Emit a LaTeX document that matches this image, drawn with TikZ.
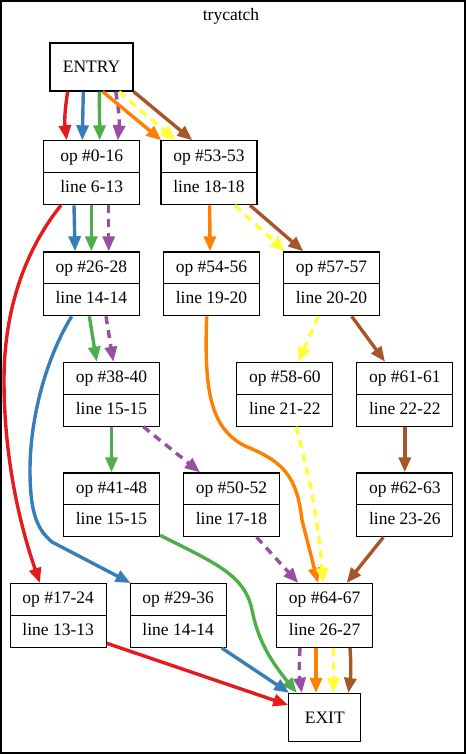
\documentclass[tikz,border=0pt]{standalone}
\usepackage{fontspec}
\setmainfont{Liberation Serif}
\usetikzlibrary{shapes.multipart,arrows.meta}

\definecolor{setred}{HTML}{E41A1C}
\definecolor{setblue}{HTML}{377EB8}
\definecolor{setgreen}{HTML}{4DAF4A}
\definecolor{setpurple}{HTML}{984EA3}
\definecolor{setorange}{HTML}{FF7F00}
\definecolor{setyellow}{HTML}{FFFF33}
\definecolor{setbrown}{HTML}{A65628}

\begin{document}
\begin{tikzpicture}[x=1pt, y=-1pt, every node/.style={font=\fontsize{17.5}{21}\selectfont},
    blk/.style={rectangle split, rectangle split parts=2, draw, line width=1.2pt,
      minimum width=96pt, inner ysep=4.85pt, anchor=north},
    ebox/.style={draw, line width=1.2pt, minimum height=48pt},
    flow/.style={line width=3.4pt, -{Triangle[length=15pt,width=12pt]}},
    dashflow/.style={flow, dash pattern=on 8pt off 6pt}]
  \useasboundingbox (0,0) rectangle (466,754);
  \draw[line width=1.2pt] (1,1) rectangle (465,753);
  \node (title) at (231,16) {trycatch};

  \node[ebox, minimum width=83pt] (entry) at (91.5,67) {ENTRY};
  \node[ebox, minimum width=72pt] (exit) at (324.8,717.5) {EXIT};

  \node[blk] (b0)  at (91.7,140.3)  {\strut op \#0-16 \nodepart{two}\strut line 6-13};
  \node[blk] (b53) at (209,140.3)   {\strut op \#53-53 \nodepart{two}\strut line 18-18};
  \node[blk] (b26) at (91.3,251.3)  {\strut op \#26-28 \nodepart{two}\strut line 14-14};
  \node[blk] (b54) at (211.5,251.3) {\strut op \#54-56 \nodepart{two}\strut line 19-20};
  \node[blk] (b57) at (331.5,251.3) {\strut op \#57-57 \nodepart{two}\strut line 20-20};
  \node[blk] (b38) at (111.5,361.7) {\strut op \#38-40 \nodepart{two}\strut line 15-15};
  \node[blk] (b58) at (284.8,361.7) {\strut op \#58-60 \nodepart{two}\strut line 21-22};
  \node[blk] (b61) at (404.8,361.7) {\strut op \#61-61 \nodepart{two}\strut line 22-22};
  \node[blk] (b41) at (111.5,472.3) {\strut op \#41-48 \nodepart{two}\strut line 15-15};
  \node[blk] (b50) at (231.5,472.3) {\strut op \#50-52 \nodepart{two}\strut line 17-18};
  \node[blk] (b62) at (404.8,472.3) {\strut op \#62-63 \nodepart{two}\strut line 23-26};
  \node[blk] (b17) at (58.2,583)    {\strut op \#17-24 \nodepart{two}\strut line 13-13};
  \node[blk] (b29) at (178.2,583)   {\strut op \#29-36 \nodepart{two}\strut line 14-14};
  \node[blk] (b64) at (324.7,583)   {\strut op \#64-67 \nodepart{two}\strut line 26-27};

  % entry
  \draw[flow, setred] ([xshift=-23.8pt]entry.south) to[bend right=8] ([xshift=-25pt]b0.north);
  \draw[flow, setblue] ([xshift=-8.2pt]entry.south) -- ([xshift=-9.4pt]b0.north);
  \draw[flow, setgreen] ([xshift=7.8pt]entry.south) -- ([xshift=8pt]b0.north);
  \draw[dashflow, setpurple] ([xshift=24.2pt]entry.south) to[bend left=8] ([xshift=26pt]b0.north);
  \draw[flow, setorange] ([xshift=11.2pt]entry.south) -- ([xshift=1pt]b53.north west);
  \draw[dashflow, setyellow] ([xshift=27.5pt]entry.south) -- ([xshift=-33.3pt]b53.north);
  \draw[flow, setbrown] (entry.south east) -- ([xshift=-16.7pt]b53.north);

  % first split
  \draw[flow, setblue] ([xshift=-17.7pt]b0.south) -- ([xshift=-16.3pt]b26.north);
  \draw[flow, setgreen] ([xshift=-0.4pt]b0.south) -- (b26.north);
  \draw[dashflow, setpurple] ([xshift=17pt]b0.south) -- ([xshift=17.4pt]b26.north);
  \draw[flow, setred] ([xshift=-30.7pt]b0.south) .. controls (25,250) and (4,310) .. (4,380)
      .. controls (4,470) and (25,540) .. ([xshift=-18.2pt]b17.north);
  \draw[flow, setorange] ([xshift=0.7pt]b53.south) -- ([xshift=-1.5pt]b54.north);
  \draw[dashflow, setyellow] ([xshift=26pt]b53.south) -- ([xshift=-46.5pt]b57.north);
  \draw[flow, setbrown] ([xshift=41pt]b53.south) -- ([xshift=-28.2pt]b57.north);

  % middle rows
  \draw[flow, setgreen] ([xshift=-2pt]b26.south) -- ([xshift=-14.8pt]b38.north);
  \draw[dashflow, setpurple] ([xshift=14.7pt]b26.south) -- ([xshift=1.8pt]b38.north);
  \draw[flow, setblue] ([xshift=-19.6pt]b26.south) .. controls (45,360) and (30,420) .. (30,470)
      .. controls (30,515) and (38,530) .. (52,542) -- ([xshift=1pt]b29.north west);
  \draw[flow, setorange] ([xshift=-4.8pt]b54.south) .. controls (204,390) and (210,428) .. (245,446)
      .. controls (285,462) and (297,478) .. (302,520) -- ([xshift=-6.7pt]b64.north);
  \draw[dashflow, setyellow] ([xshift=-13.2pt]b57.south) -- ([xshift=13.5pt]b58.north);
  \draw[flow, setbrown] ([xshift=20.2pt]b57.south) -- ([xshift=-19.8pt]b61.north);
  \draw[flow, setgreen] (b38.south) -- (b41.north);
  \draw[dashflow, setpurple] ([xshift=31.8pt]b38.south) -- ([xshift=-31.5pt]b50.north);
  \draw[dashflow, setyellow] ([xshift=11.2pt]b58.south) to[bend left=5] ([xshift=-1.4pt]b64.north);
  \draw[flow, setbrown] (b61.south) -- (b62.north);

  % into op #64-67
  \draw[dashflow, setpurple] ([xshift=25.2pt]b50.south) -- ([xshift=-26.4pt]b64.north);
  \draw[flow, setbrown] ([xshift=-21.5pt]b62.south) -- ([xshift=22pt]b64.north);

  % exit
  \draw[flow, setgreen] ([yshift=2pt]b41.south east) .. controls (215,563) and (245,575) .. (252,610)
      .. controls (258,640) and (270,660) .. ([xshift=-28.1pt]exit.north);
  \draw[flow, setred] ([yshift=4.7pt]b17.south east) -- ([yshift=12.5pt]exit.west);
  \draw[flow, setblue] ([xshift=43.5pt]b29.south) -- ([xshift=1pt]exit.north west);
  \draw[dashflow, setpurple] ([xshift=-24.7pt]b64.south) to[bend right=6] ([xshift=-23.1pt]exit.north);
  \draw[flow, setorange] ([xshift=-8.7pt]b64.south) -- ([xshift=-8.8pt]exit.north);
  \draw[dashflow, setyellow] ([xshift=8.6pt]b64.south) -- ([xshift=8.5pt]exit.north);
  \draw[flow, setbrown] ([xshift=25.3pt]b64.south) to[bend left=6] ([xshift=23.5pt]exit.north);
\end{tikzpicture}
\end{document}
